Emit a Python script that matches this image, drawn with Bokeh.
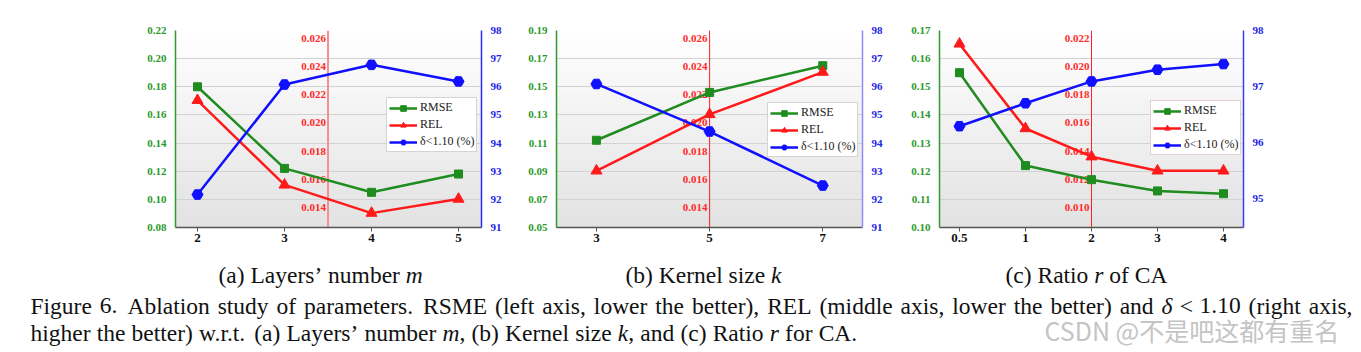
from bokeh.plotting import figure
from bokeh.models import Range1d, LinearAxis, FixedTicker, NumeralTickFormatter, Span, BoxAnnotation, Label
from bokeh.layouts import row, column
from bokeh.core.properties import value
from bokeh.embed import file_html
from bokeh.resources import INLINE

# ---------------- data ----------------
a_cats = ["2", "3", "4", "5"]
a_rmse = [0.180, 0.122, 0.105, 0.118]
a_rel = [0.0216, 0.0156, 0.0136, 0.0146]
a_delta = [92.17, 96.08, 96.78, 96.19]

b_cats = ["3", "5", "7"]
b_rmse = [0.112, 0.146, 0.165]
b_rel = [0.0166, 0.0206, 0.0236]
b_delta = [96.10, 94.41, 92.49]

c_cats = ["0.5", "1", "2", "3", "4"]
c_rmse = [0.155, 0.122, 0.117, 0.113, 0.112]
c_rel = [0.0216, 0.0156, 0.0136, 0.0126, 0.0126]
c_delta = [96.29, 96.70, 97.09, 97.30, 97.40]

a_left_ticks = [0.08, 0.10, 0.12, 0.14, 0.16, 0.18, 0.20, 0.22]
b_left_ticks = [0.05, 0.07, 0.09, 0.11, 0.13, 0.15, 0.17, 0.19]
c_left_ticks = [0.10, 0.11, 0.12, 0.13, 0.14, 0.15, 0.16, 0.17]
ab_right_ticks = [91, 92, 93, 94, 95, 96, 97, 98]
c_right_ticks = [95, 96, 97, 98]
ab_mid_ticks = [0.014, 0.016, 0.018, 0.020, 0.022, 0.024, 0.026]
c_mid_ticks = [0.010, 0.012, 0.014, 0.016, 0.018, 0.020, 0.022]

series_names = ["RMSE", "REL", "δ<1.10 (%)"]

# ---------------- style ----------------
SERIF = "Liberation Serif"
GREEN = "#1f8c1f"
GREEN_TXT = "#2e9a2e"
RED = "#ff1a1a"
BLUE = "#1010ff"
BLUE_TXT = "#2424e6"


def make_panel(cats, rmse, rel, delta, left_ticks, left_rng, right_ticks, right_rng,
               mid_ticks, mid_rng, x_rng, mid_x, bl, br, width, leg_loc,
               right_color, span_color, span_width, leg_border):
    p = figure(width=width, height=252, x_range=Range1d(*x_rng), y_range=Range1d(*left_rng),
               output_backend="svg", toolbar_location=None,
               min_border_left=bl, min_border_right=br, min_border_top=30, min_border_bottom=25)
    p.extra_y_ranges = {"right": Range1d(*right_rng), "mid": Range1d(*mid_rng)}
    p.outline_line_color = None
    p.background_fill_color = "white"
    p.border_fill_color = "white"

    # vertical gradient of the plotting area (white top -> light grey bottom)
    n = 40
    lo, hi = left_rng
    for i in range(n):
        f = (i + 0.5) / n
        g = int(round(226 + 29 * f))
        p.add_layout(BoxAnnotation(bottom=lo + (hi - lo) * i / n,
                                   top=lo + (hi - lo) * min(i + 1.3, n) / n,
                                   fill_color="#%02x%02x%02x" % (g, g, g), fill_alpha=1.0,
                                   line_color=None, level="image"))

    p.xgrid.visible = False
    p.ygrid.ticker = FixedTicker(ticks=left_ticks)
    p.ygrid.grid_line_color = "#d2d2d2"
    p.ygrid.grid_line_width = 1

    xs = list(range(len(cats)))
    xa = p.xaxis[0]
    xa.ticker = FixedTicker(ticks=xs)
    xa.major_label_overrides = {i: c for i, c in enumerate(cats)}
    xa.major_label_text_font = SERIF
    xa.major_label_text_font_style = "bold"
    xa.major_label_text_font_size = "13px"
    xa.major_label_text_color = "#111111"
    xa.axis_line_color = "#555555"
    xa.axis_line_width = 1.5
    xa.major_tick_line_color = "#555555"
    xa.major_tick_out = 4
    xa.major_tick_in = 0
    xa.minor_tick_line_color = None
    xa.major_label_standoff = 2

    ya = p.yaxis[0]
    ya.ticker = FixedTicker(ticks=left_ticks)
    ya.formatter = NumeralTickFormatter(format="0.00")
    ya.major_label_text_font = SERIF
    ya.major_label_text_font_style = "bold"
    ya.major_label_text_font_size = "11px"
    ya.major_label_text_color = GREEN_TXT
    ya.axis_line_color = GREEN_TXT
    ya.axis_line_width = 1.5
    ya.major_tick_line_color = None
    ya.minor_tick_line_color = None
    ya.major_label_standoff = 3

    ra = LinearAxis(y_range_name="right", ticker=FixedTicker(ticks=right_ticks),
                    formatter=NumeralTickFormatter(format="0"))
    ra.major_label_text_font = SERIF
    ra.major_label_text_font_style = "bold"
    ra.major_label_text_font_size = "11px"
    ra.major_label_text_color = BLUE_TXT
    ra.axis_line_color = right_color
    ra.axis_line_width = 1.5
    ra.major_tick_line_color = None
    ra.minor_tick_line_color = None
    ra.major_label_standoff = 3
    p.add_layout(ra, "right")

    # middle (REL) axis: red vertical line with red labels
    p.add_layout(Span(location=mid_x, dimension="height", line_color=span_color,
                      line_width=span_width, level="underlay"))
    p.text(x=[mid_x] * len(mid_ticks), y=mid_ticks, text=["%.3f" % t for t in mid_ticks],
           y_range_name="mid", x_offset=-2, text_align="right", text_baseline="middle",
           text_font=value(SERIF), text_font_style="bold", text_font_size="11px",
           text_color="#ff2a2a")

    p.line(xs, rmse, line_color=GREEN, line_width=2.5, legend_label=series_names[0])
    p.scatter(xs, rmse, marker="square", size=8, fill_color=GREEN, line_color=GREEN,
              legend_label=series_names[0])
    p.line(xs, rel, line_color=RED, line_width=2.5, y_range_name="mid", legend_label=series_names[1])
    p.scatter(xs, rel, marker="triangle", size=11, fill_color=RED, line_color=RED,
              y_range_name="mid", legend_label=series_names[1])
    p.line(xs, delta, line_color=BLUE, line_width=2.5, y_range_name="right", legend_label=series_names[2])
    p.scatter(xs, delta, marker="hex", size=11, fill_color=BLUE, line_color=BLUE,
              y_range_name="right", legend_label=series_names[2])

    lg = p.legend[0]
    lg.location = leg_loc
    lg.label_text_font = SERIF
    lg.label_text_font_size = "12px"
    lg.label_text_color = "#222222"
    lg.glyph_width = 28
    lg.glyph_height = 14
    lg.label_height = 14
    lg.spacing = 2
    lg.padding = 2
    lg.margin = 0
    lg.label_standoff = 3
    lg.border_line_color = leg_border
    lg.border_line_width = 1
    lg.background_fill_color = "white"
    lg.background_fill_alpha = 1.0
    return p


pa = make_panel(a_cats, a_rmse, a_rel, a_delta, a_left_ticks, (0.08, 0.22), ab_right_ticks, (91, 98),
                ab_mid_ticks, (0.01258, 0.02655), (-0.253, 3.264), 1.5, 175, 24, 505, (211, 75),
                "#2a2aff", "#f39090", 2, "#aaaaaa")
pb = make_panel(b_cats, b_rmse, b_rel, b_delta, b_left_ticks, (0.05, 0.19), ab_right_ticks, (91, 98),
                ab_mid_ticks, (0.01258, 0.02655), (-0.353, 2.351), 1, 51, 28, 385, (211, 70),
                "#8c8cff", "#ff2020", 1, "#aaaaaa")
pc = make_panel(c_cats, c_rmse, c_rel, c_delta, c_left_ticks, (0.10, 0.17), c_right_ticks, (94.48, 98),
                c_mid_ticks, (0.00858, 0.02255), (-0.303, 4.303), 2, 49, 118, 471, (211, 72),
                "#3a3aff", "#ff2020", 1, "#c8a4a4")

# ---------------- captions ----------------
cap = figure(width=1361, height=100, x_range=Range1d(0, 1361), y_range=Range1d(0, 100),
             output_backend="svg", toolbar_location=None, min_border=0,
             x_axis_type=None, y_axis_type=None)
cap.grid.visible = False
cap.outline_line_color = None
cap.background_fill_color = "white"
cap.border_fill_color = "white"

W = {' ': 250, '(': 333, ')': 333, ',': 250, '.': 250, '<': 564, '%': 833, '\u2019': 333,
     'A': 722, 'C': 667, 'E': 611, 'F': 556, 'K': 722, 'L': 611, 'M': 889, 'R': 667, 'S': 556,
     'a': 444, 'b': 500, 'c': 444, 'd': 500, 'e': 444, 'f': 333, 'g': 500, 'h': 500, 'i': 278,
     'k': 500, 'l': 278, 'm': 778, 'n': 500, 'o': 500, 'p': 500, 'r': 333, 's': 389, 't': 278,
     'u': 500, 'w': 722, 'x': 500, 'y': 500, 'z': 444}
WI = {'m': 722, 'k': 444, 'r': 389, '\u03b4': 494}
FS = 23.5


def tw(s, it=False):
    tot = 0
    for ch in s:
        if it and ch in WI:
            tot += WI[ch]
        elif ch.isdigit():
            tot += 500
        else:
            tot += W.get(ch, 500)
    return tot * FS / 1000.0


def yc(y_abs):
    return 352 - y_abs


def lab(x, y_abs, text, it=False, align="left"):
    cap.add_layout(Label(x=x, y=yc(y_abs), text=text, text_font=SERIF,
                         text_font_size="%gpx" % FS,
                         text_font_style="italic" if it else "normal",
                         text_color="#111111", text_baseline="alphabetic", text_align=align))


def words_flow(tokens, x0, y_abs, extra=0.0):
    # tokens: (word, italic, gap_after) ; gap 1 = normal space, 0 = none
    x = x0
    for w, it, g in tokens:
        lab(x, y_abs, w, bool(it))
        x += tw(w, it)
        if g:
            x += tw(" ") + extra


words_flow([("(a)", 0, 1), ("Layers\u2019", 0, 1), ("number", 0, 1), ("m", 1, 0)], 218, 274)
words_flow([("(b)", 0, 1), ("Kernel", 0, 1), ("size", 0, 1), ("k", 1, 0)], 625, 274)
words_flow([("(c)", 0, 1), ("Ratio", 0, 1), ("r", 1, 1), ("of", 0, 1), ("CA", 0, 0)], 1005, 274)

# line 1 : justified between x=30 and x=1352
words1 = [("Figure", 0, 1), ("6.", 0, 2), ("Ablation", 0, 1), ("study", 0, 1), ("of", 0, 1),
          ("parameters.", 0, 2), ("RSME", 0, 1), ("(left", 0, 1), ("axis,", 0, 1), ("lower", 0, 1),
          ("the", 0, 1), ("better),", 0, 1), ("REL", 0, 1), ("(middle", 0, 1), ("axis,", 0, 1),
          ("lower", 0, 1), ("the", 0, 1), ("better)", 0, 1), ("and", 0, 1), ("\u03b4", 1, 0),
          ("<", 0, 0), ("1.10", 0, 1), ("(right", 0, 1), ("axis,", 0, None)]
x_start, x_end = 30.0, 1352.0
nat = sum(tw(w, it) for w, it, _ in words1)
gaps = [g for _, _, g in words1[:-1]]
base = sum(tw(" ") if g else 0.278 * FS for g in gaps)
wsum = sum(g for g in gaps if g)
extra = (x_end - x_start - nat - base) / wsum
x = x_start
for w, it, g in words1:
    lab(x, 305, w, bool(it))
    x += tw(w, it)
    if g is not None:
        x += (tw(" ") + g * extra) if g else 0.278 * FS

# line 2 : natural spacing
words2 = [("higher", 0, 1), ("the", 0, 1), ("better)", 0, 1), ("w.r.t.", 0, 1), ("(a)", 0, 1),
          ("Layers\u2019", 0, 1), ("number", 0, 1), ("m", 1, 0), (",", 0, 1), ("(b)", 0, 1),
          ("Kernel", 0, 1), ("size", 0, 1), ("k", 1, 0), (",", 0, 1), ("and", 0, 1), ("(c)", 0, 1),
          ("Ratio", 0, 1), ("r", 1, 1), ("for", 0, 1), ("CA.", 0, 0)]
words_flow(words2, 30, 332, extra=0.3)

cap.add_layout(Label(x=1044, y=yc(329), text="CSDN @不是吧这都有重名",
                     text_font="Noto Sans CJK SC", text_font_size="25px",
                     text_color="#c4c4c4", text_baseline="middle", text_align="left"))

layout = column(row(pa, pb, pc), cap)
open("out.html", "w").write(file_html(layout, INLINE))
